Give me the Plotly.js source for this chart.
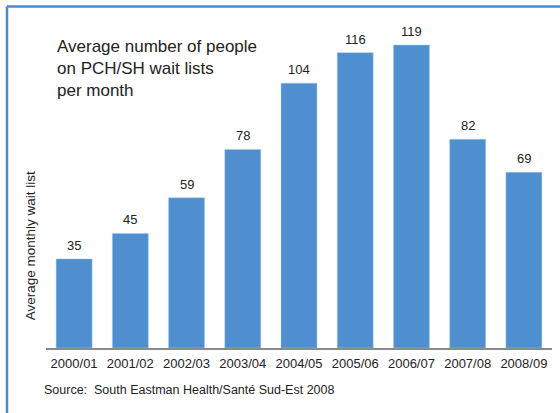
<!DOCTYPE html>
<html><head><meta charset="utf-8">
<script src="https://cdn.plot.ly/plotly-3.0.1.min.js"></script>
<style>html,body{margin:0;padding:0;background:#fff;}#chart{width:560px;height:413px;}</style>
</head><body><div id="chart"></div>
<script>
const categories = ["2000/01","2001/02","2002/03","2003/04","2004/05","2005/06","2006/07","2007/08","2008/09"];
const waitList = [35,45,59,78,104,116,119,82,69];
const chartTitle = "Average number of people<br>on PCH/SH wait lists<br>per month";
const yTitle = "Average monthly wait list";
const sourceText = "Source:  South Eastman Health/Santé Sud-Est 2008";

const font = {family: "Liberation Sans, Arial, sans-serif", color: "#222", size: 13};
const barColor = "#4f8fcf";
const borderColor = "#4a8ad2";

const annotations = categories.map((c, i) => ({
  x: c, y: waitList[i], xref: "x", yref: "y", text: String(waitList[i]),
  showarrow: false, yanchor: "bottom", yshift: 4, font: {size: 13, color: "#222"}
}));
annotations.push({
  xref: "paper", yref: "paper", x: 0.018, y: 0.945, xanchor: "left", yanchor: "top",
  text: chartTitle, align: "left", showarrow: false, font: {size: 17, color: "#222"}
});
annotations.push({
  xref: "paper", yref: "paper", x: -0.03, y: 0.31, xanchor: "center", yanchor: "middle",
  text: yTitle, textangle: -90, showarrow: false, font: {size: 13.5, color: "#222"}
});
annotations.push({
  xref: "paper", yref: "paper", x: -0.008, y: -0.127, xanchor: "left", yanchor: "middle",
  text: sourceText, showarrow: false, font: {size: 12.5, color: "#222"}
});

const layout = {
  width: 560, height: 413,
  margin: {l: 46, r: 8, t: 17, b: 65},
  paper_bgcolor: "#fff", plot_bgcolor: "#fff",
  font: font,
  showlegend: false,
  bargap: 0.36,
  xaxis: {
    type: "category", showline: true, linecolor: "#8a8a8a", linewidth: 1.5,
    ticks: "", ticklabelstandoff: 3, showgrid: false, zeroline: false, tickfont: {size: 13, color: "#222"}
  },
  yaxis: {
    range: [0, 130], visible: false, showgrid: false, zeroline: false
  },
  annotations: annotations,
  shapes: [
    {type: "line", xref: "paper", yref: "paper", x0: -0.0771, x1: -0.0771, y0: -0.3, y1: 1.0318,
     line: {color: borderColor, width: 2.5}},
    {type: "line", xref: "paper", yref: "paper", x0: -0.0771, x1: 1.05, y0: 1.0318, y1: 1.0318,
     line: {color: borderColor, width: 2.5}}
  ]
};

Plotly.newPlot("chart", [{
  type: "bar", x: categories, y: waitList,
  marker: {color: barColor, line: {color: "#a9c8ea", width: 0.5}},
  hoverinfo: "none"
}], layout, {staticPlot: true, displayModeBar: false});
</script></body></html>
